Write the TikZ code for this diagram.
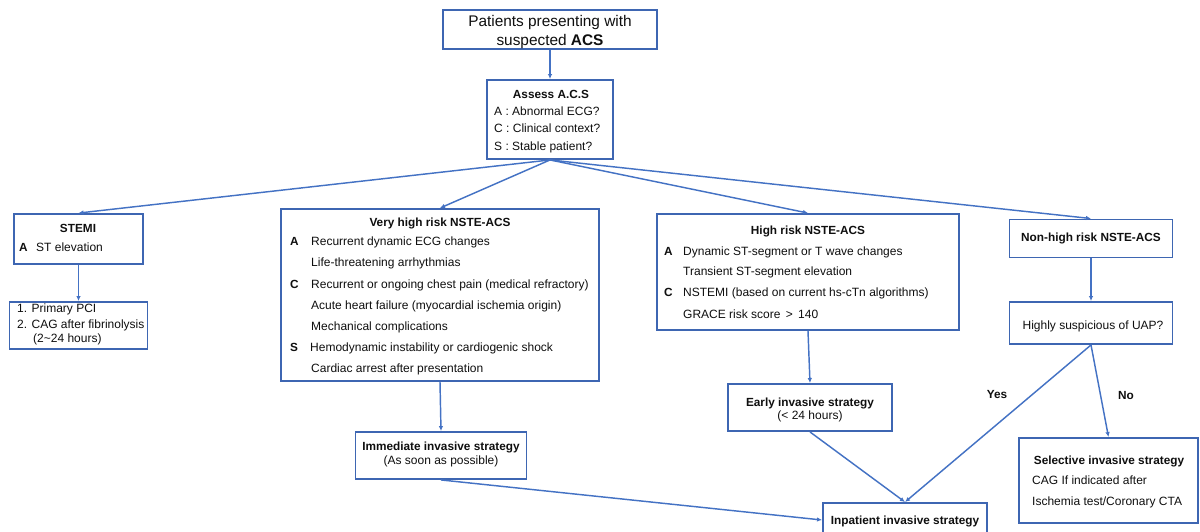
\documentclass[tikz,border=0pt]{standalone}
\usepackage{fontspec}
\setmainfont{Liberation Sans}
\usetikzlibrary{arrows.meta}
\definecolor{boxc}{RGB}{62,102,178}
\definecolor{linec}{RGB}{68,114,196}
\definecolor{textc}{RGB}{15,15,15}
\tikzset{
  box/.style={draw=boxc, line width=1.9pt, fill=white, inner sep=0pt, rectangle},
  conn/.style={draw=linec, line width=1.45pt, -{Latex[length=5pt,width=4.5pt]}},
  tx/.style={inner sep=0pt, text=textc, font=\fontsize{12}{14}\selectfont},
  tb/.style={inner sep=0pt, text=textc, font=\fontsize{11.8}{14}\selectfont\bfseries},
  tl/.style={inner sep=0pt, text=textc, font=\fontsize{15.4}{18}\selectfont},
}
\begin{document}
\begin{tikzpicture}[x=1pt,y=-1pt]
\useasboundingbox[fill=white] (0,0) rectangle (1200,532);
% boxes
\node[box, minimum width=214pt, minimum height=39pt] (top) at (550,29.5) {};
\node[box, minimum width=126pt, minimum height=79pt] (assess) at (550,119.5) {};
\node[box, minimum width=129pt, minimum height=50pt] (stemi) at (78.5,239) {};
\node[box, minimum width=138pt, minimum height=47pt] (pci) at (78.5,325.5) {};
\node[box, minimum width=318pt, minimum height=172pt] (vh) at (440,295) {};
\node[box, minimum width=302pt, minimum height=116pt] (hr) at (808,272) {};
\node[box, minimum width=163pt, minimum height=38pt] (nh) at (1091,238.5) {};
\node[box, minimum width=163pt, minimum height=42pt] (uap) at (1091,323) {};
\node[box, minimum width=171pt, minimum height=47pt] (imm) at (441,455.5) {};
\node[box, minimum width=164pt, minimum height=47pt] (early) at (810,407.5) {};
\node[box, minimum width=164pt, minimum height=34pt] (inp) at (905,520) {};
\node[box, minimum width=179pt, minimum height=85pt] (sel) at (1108.5,480.5) {};
% texts
\node[tl] (t1) at (550,23) {Patients presenting with};
\node[tl] (t2) at (550,41.5) {suspected \textbf{ACS}};
\node[tb] (a0) at (551,94) {Assess A.C.S};
\node[tx, anchor=mid west] (a1) at (494,113) {A : Abnormal ECG?};
\node[tx, anchor=mid west] (a2) at (494,130) {C : Clinical context?};
\node[tx, anchor=mid west] (a3) at (494,148) {S : Stable patient?};
% STEMI
\node[tb] (s0) at (78,228) {STEMI};
\node[tb, anchor=mid west] (s1) at (19,249) {A};
\node[tx, anchor=mid west] (s2) at (36,249) {ST elevation};
\node[tx, anchor=mid west] (p1) at (17,310) {1. Primary PCI};
\node[tx, anchor=mid west] (p2) at (17,325.5) {2. CAG after fibrinolysis};
\node[tx, anchor=mid west] (p3) at (33,340) {(2\textasciitilde24 hours)};
% very high
\node[tb] (v0) at (440,223) {Very high risk NSTE-ACS};
\node[tb, anchor=mid west] (vA) at (290,243) {A};
\node[tx, anchor=mid west] (v1) at (311,243) {Recurrent dynamic ECG changes};
\node[tx, anchor=mid west] (v2) at (311,264) {Life-threatening arrhythmias};
\node[tb, anchor=mid west] (vC) at (290,286) {C};
\node[tx, anchor=mid west] (v3) at (311,286) {Recurrent or ongoing chest pain (medical refractory)};
\node[tx, anchor=mid west] (v4) at (311,307) {Acute heart failure (myocardial ischemia origin)};
\node[tx, anchor=mid west] (v5) at (311,328) {Mechanical complications};
\node[tb, anchor=mid west] (vS) at (290,349) {S};
\node[tx, anchor=mid west] (v6) at (310,349) {Hemodynamic instability or cardiogenic shock};
\node[tx, anchor=mid west] (v7) at (311,370) {Cardiac arrest after presentation};
% high
\node[tb] (h0) at (808,231) {High risk NSTE-ACS};
\node[tb, anchor=mid west] (hA) at (664,253) {A};
\node[tx, anchor=mid west] (h1) at (683,253) {Dynamic ST-segment or T wave changes};
\node[tx, anchor=mid west] (h2) at (683,273) {Transient ST-segment elevation};
\node[tb, anchor=mid west] (hC) at (664,294) {C};
\node[tx, anchor=mid west] (h3) at (683,294) {NSTEMI (based on current hs-cTn algorithms)};
\node[tx, anchor=mid west] (h4) at (683,316) {GRACE risk score \,>\, 140};
% non-high
\node[tb] (n0) at (1091,238) {Non-high risk NSTE-ACS};
\node[tx] (u0) at (1093,326) {Highly suspicious of UAP?};
% strategies
\node[tb] (i0) at (441,447) {Immediate invasive strategy};
\node[tx] (i1) at (441,461) {(As soon as possible)};
\node[tb] (e0) at (810,403) {Early invasive strategy};
\node[tx] (e1) at (810,416) {(< 24 hours)};
\node[tb] (in0) at (905,521) {Inpatient invasive strategy};
\node[tb] (se0) at (1109,461) {Selective invasive strategy};
\node[tx, anchor=mid west] (se1) at (1032,482) {CAG If indicated after};
\node[tx, anchor=mid west] (se2) at (1032,503) {Ischemia test/Coronary CTA};
\node[tb] (yes) at (997,394) {Yes};
\node[tb] (no) at (1126,395) {No};
% connectors
\draw[conn] (top.south) -- (assess.north);
\draw[conn] (assess.south) -- (stemi.north);
\draw[conn] (assess.south) -- (vh.north);
\draw[conn] (assess.south) -- (hr.north);
\draw[conn] (assess.south) -- (nh.north);
\draw[conn] (stemi.south) -- (pci.north);
\draw[conn] (vh.south) -- (imm.north);
\draw[conn] (hr.south) -- (early.north);
\draw[conn] (nh.south) -- (uap.north);
\draw[conn] (imm.south) -- (inp.west);
\draw[conn] (early.south) -- (inp.north);
\draw[conn] (uap.south) -- (inp.north);
\draw[conn] (uap.south) -- (sel.north);
\end{tikzpicture}
\end{document}
